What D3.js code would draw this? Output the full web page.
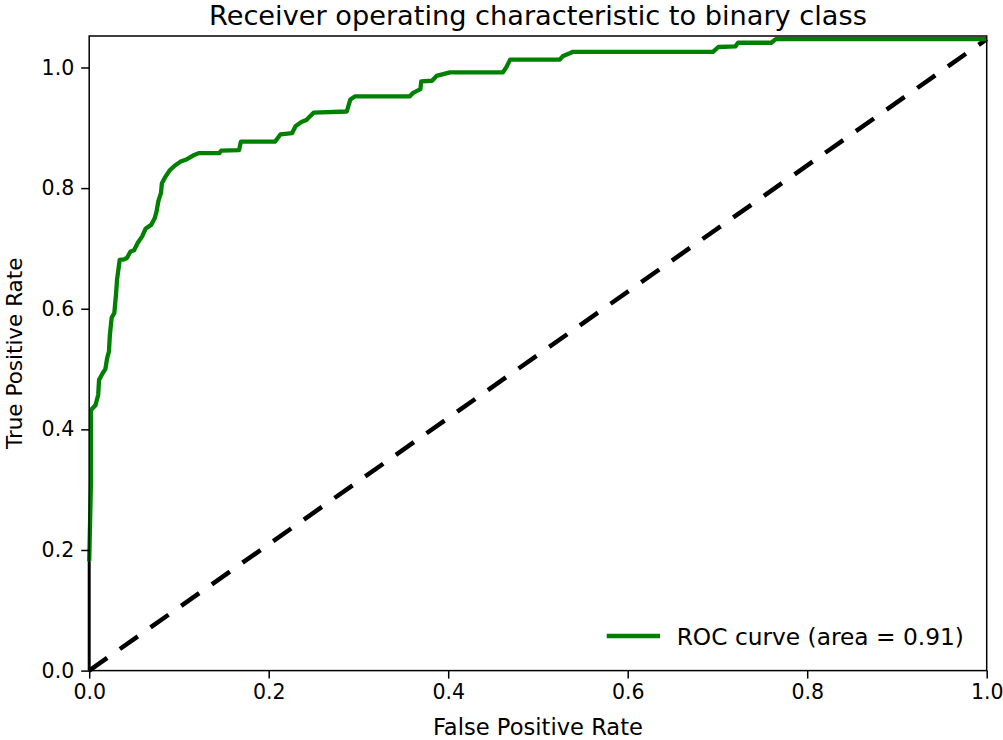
<!DOCTYPE html>
<html>
<head>
<meta charset="utf-8">
<script src="https://cdn.jsdelivr.net/npm/d3@7"></script>
<style>
  html, body { margin: 0; padding: 0; background: #fff; }
  svg { display: block; font-family: "DejaVu Sans", sans-serif; }
</style>
</head>
<body>
<svg id="chart" width="1003" height="740"></svg>
<script>
// ROC curve points (false positive rate, true positive rate)
const fpr = [0.000, 0.002, 0.002, 0.007, 0.010, 0.011, 0.015, 0.018, 0.020, 0.022, 0.023, 0.025, 0.028, 0.030, 0.031,
  0.034, 0.039, 0.042, 0.046, 0.050, 0.054, 0.059, 0.063, 0.069, 0.073, 0.075, 0.077, 0.080, 0.081, 0.085, 0.090,
  0.096, 0.102, 0.109, 0.117, 0.122, 0.145, 0.147, 0.167, 0.169, 0.207, 0.213, 0.226, 0.230, 0.237, 0.242, 0.250,
  0.287, 0.291, 0.296, 0.357, 0.361, 0.369, 0.370, 0.382, 0.387, 0.402, 0.461, 0.465, 0.469, 0.524, 0.528, 0.536,
  0.539, 0.695, 0.701, 0.720, 0.723, 0.760, 0.765, 1.000];
const tpr = [0.181, 0.316, 0.432, 0.440, 0.457, 0.482, 0.493, 0.500, 0.518, 0.529, 0.556, 0.585, 0.593, 0.626, 0.648,
  0.681, 0.682, 0.684, 0.695, 0.697, 0.709, 0.720, 0.733, 0.739, 0.750, 0.761, 0.778, 0.792, 0.808, 0.819, 0.830,
  0.838, 0.844, 0.848, 0.855, 0.858, 0.858, 0.862, 0.863, 0.877, 0.877, 0.889, 0.891, 0.903, 0.910, 0.913, 0.925,
  0.927, 0.947, 0.952, 0.952, 0.958, 0.964, 0.977, 0.978, 0.986, 0.992, 0.992, 1.001, 1.013, 1.013, 1.019, 1.024,
  1.026, 1.026, 1.034, 1.035, 1.041, 1.041, 1.047, 1.047];
// short black segment at the start of the curve
const startX = [0.000, 0.000];
const startY = [0.000, 0.181];
// chance diagonal
const diagX = [0, 1];
const diagY = [0, 1.047];
const xTicks = [0.0, 0.2, 0.4, 0.6, 0.8, 1.0];
const yTicks = [0.0, 0.2, 0.4, 0.6, 0.8, 1.0];
const title = "Receiver operating characteristic to binary class";
const xLabel = "False Positive Rate";
const yLabel = "True Positive Rate";
const legendLabel = "ROC curve (area = 0.91)";

const svg = d3.select("#chart");
const L = 89.2, R = 986.7, T = 36, B = 670.6;
const x = d3.scaleLinear().domain([0, 1]).range([L, R]);
const y = d3.scaleLinear().domain([0, 1.0522]).range([B, T]);

const line = d3.line().x(d => x(d[0])).y(d => y(d[1]));

// diagonal
svg.append("path")
  .attr("d", line(d3.zip(diagX, diagY)))
  .attr("fill", "none").attr("stroke", "#000").attr("stroke-width", 4.5)
  .attr("stroke-dasharray", "22,15.5");

// black start segment
svg.append("path")
  .attr("d", line(d3.zip(startX, startY)))
  .attr("fill", "none").attr("stroke", "#000").attr("stroke-width", 3);

// ROC curve
svg.append("path")
  .attr("d", line(d3.zip(fpr, tpr)))
  .attr("fill", "none").attr("stroke", "#008000").attr("stroke-width", 4.3)
  .attr("stroke-linejoin", "round");

// axes
const xAxis = d3.axisBottom(x).tickValues(xTicks).tickFormat(d3.format(".1f")).tickSize(8).tickPadding(6);
const yAxis = d3.axisLeft(y).tickValues(yTicks).tickFormat(d3.format(".1f")).tickSize(8).tickPadding(7);

const gx = svg.append("g").attr("transform", `translate(0,${B})`).call(xAxis);
const gy = svg.append("g").attr("transform", `translate(${L},0)`).call(yAxis);
[gx, gy].forEach(g => {
  g.select(".domain").remove();
  g.selectAll(".tick line").attr("stroke", "#000").attr("stroke-width", 1.5);
  g.selectAll(".tick text").attr("fill", "#000").attr("font-size", "20.5px")
    .attr("font-family", "DejaVu Sans, sans-serif");
});
gx.selectAll(".tick text").attr("dy", "0.71em");

// spines
svg.append("rect").attr("x", L).attr("y", T).attr("width", R - L).attr("height", B - T)
  .attr("fill", "none").attr("stroke", "#000").attr("stroke-width", 1.5);

// title and labels
svg.append("text").attr("x", (L + R) / 2).attr("y", 25).attr("text-anchor", "middle")
  .attr("font-size", "27.2px").text(title);
svg.append("text").attr("x", (L + R) / 2).attr("y", 735).attr("text-anchor", "middle")
  .attr("font-size", "22.6px").text(xLabel);
svg.append("text").attr("transform", `translate(22,${(T + B) / 2}) rotate(-90)`)
  .attr("text-anchor", "middle").attr("font-size", "21.5px").text(yLabel);

// legend
svg.append("line").attr("x1", 606.7).attr("x2", 660).attr("y1", 636).attr("y2", 636)
  .attr("stroke", "#008000").attr("stroke-width", 4.5);
svg.append("text").attr("x", 676.7).attr("y", 644.5).attr("font-size", "23.3px").text(legendLabel);
</script>
</body>
</html>
